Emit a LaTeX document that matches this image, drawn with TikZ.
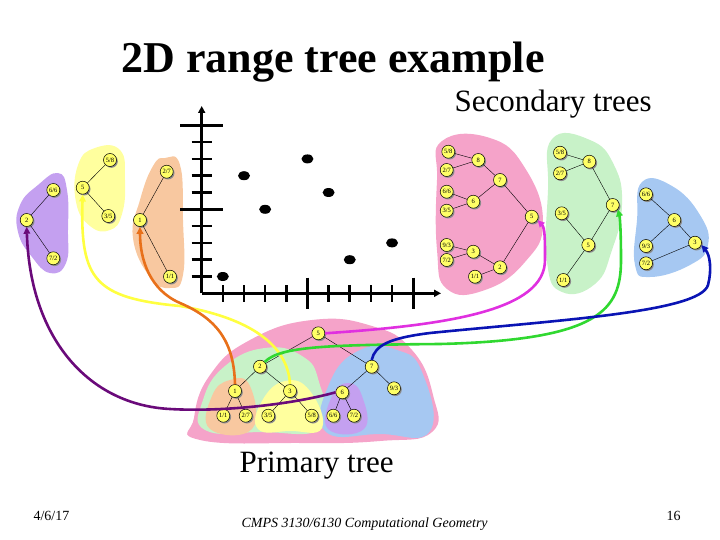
\documentclass[tikz,border=0pt]{standalone}
\usepackage{fontspec}
\setmainfont{Liberation Serif}
\usetikzlibrary{arrows.meta, shadows}

\definecolor{rosa}{HTML}{F5A3C9}
\definecolor{verdeb}{HTML}{C8F2C8}
\definecolor{naranjab}{HTML}{F8C8A0}
\definecolor{amarillob}{HTML}{FFFF9E}
\definecolor{azulb}{HTML}{A6C8F2}
\definecolor{moradob}{HTML}{C4A0F0}
\definecolor{nodoam}{HTML}{FFFF66}
\definecolor{fmorado}{HTML}{6A0A7A}
\definecolor{famarillo}{HTML}{FFFF40}
\definecolor{fnaranja}{HTML}{E8701A}
\definecolor{fmagenta}{HTML}{E030E0}
\definecolor{fverde}{HTML}{30D830}
\definecolor{fazul}{HTML}{0A14B4}

\begin{document}
\begin{tikzpicture}[x=1pt, y=-1pt,
  nd/.style={circle, draw=black, line width=0.5pt, fill=nodoam, inner sep=0pt,
    minimum size=13pt, font=\fontsize{6.5}{6.5}\selectfont,
    drop shadow={shadow xshift=1.3pt, shadow yshift=-1.3pt, fill=black!45, opacity=1}},
  arr/.style={line width=2.6pt, -{Triangle[length=7pt, width=6.5pt]}},
  axis/.style={line width=2.6pt},
  blob/.style={tension=0.8}]
  \useasboundingbox (0,0) rectangle (720,540);
  % textos
  \node[font=\fontsize{44}{44}\bfseries\selectfont, anchor=base] (titulo) at (333,73) {2D range tree example};
  \node[font=\fontsize{31}{31}\selectfont, anchor=base west] (sec) at (451,112) {Secondary trees};
  \node[font=\fontsize{31}{31}\selectfont, anchor=base west] (prim) at (236,472) {Primary tree};
  \node[font=\fontsize{14}{14}\selectfont, anchor=base west] (fecha) at (30,520) {4/6/17};
  \node[font=\fontsize{14}{14}\itshape\selectfont, anchor=base west] (curso) at (238,527) {CMPS 3130/6130 Computational Geometry};
  \node[font=\fontsize{14}{14}\selectfont, anchor=base west] (pag) at (663,520) {16};

  % manchas de color
  \fill[moradob] plot[smooth cycle, blob] coordinates {(58,173) (67,190) (68,230) (66,263) (50,273) (32,257) (18,232) (20,205) (38,185)};
  \fill[amarillob] plot[smooth cycle, blob] coordinates {(95,148) (120,150) (125,180) (122,214) (110,230) (90,226) (76,202) (78,165)};
  \fill[naranjab] plot[smooth cycle, blob] coordinates {(165,158) (180,165) (183,220) (183,275) (170,288) (150,277) (133,238) (140,200) (153,166)};
  \fill[rosa] plot[smooth cycle, blob] coordinates {(442,141) (490,138) (525,168) (543,222) (525,262) (485,290) (447,289) (437,250) (437,180)};
  \fill[verdeb] plot[smooth cycle, blob] coordinates {(552,139) (590,140) (614,165) (622,205) (612,250) (595,284) (562,292) (547,262) (548,190)};
  \fill[azulb] plot[smooth cycle, blob] coordinates {(642,182) (672,186) (700,215) (708,245) (690,265) (650,277) (635,265) (637,220)};
  % arbol primario
  \fill[rosa] plot[smooth cycle, blob] coordinates {(200,440) (194,418) (210,375) (250,340) (312,320) (372,326) (412,350) (433,395) (432,432) (380,441) (300,443)};
  \fill[verdeb] plot[smooth cycle, blob] coordinates {(205,430) (203,400) (225,366) (265,348) (302,356) (319,382) (322,428) (260,432)};
  \fill[azulb] plot[smooth cycle, blob] coordinates {(325,431) (330,382) (360,350) (397,350) (422,372) (430,431) (380,434)};
  \fill[naranjab] plot[smooth cycle, blob] coordinates {(210,429) (212,396) (230,380) (250,386) (252,429)};
  \fill[amarillob] plot[smooth cycle, blob] coordinates {(258,429) (262,401) (285,381) (310,391) (322,428) (290,431)};
  \fill[moradob] plot[smooth cycle, blob] coordinates {(328,429) (332,396) (348,383) (362,396) (364,429)};

  % ejes y puntos
  \draw[axis, -{Triangle[length=7pt, width=7pt]}] (201.7,293.3) -- (201.7,106);
  \draw[axis, -{Triangle[length=7pt, width=7pt]}] (201.7,293.3) -- (441,293.3);
  \foreach \i in {1,2,3,4,6,7,8,9} {
    \draw[axis] ({201.7+21.15*\i},285) -- ({201.7+21.15*\i},301.7);
    \draw[axis] (191.7,{293.3-16.8*\i}) -- (212,{293.3-16.8*\i});
  }
  \foreach \i in {5,10} {
    \draw[axis] ({201.7+21.15*\i},277.7) -- ({201.7+21.15*\i},309.3);
    \draw[axis] (180,{293.3-16.8*\i}) -- (222.7,{293.3-16.8*\i});
  }
  \foreach \px/\py in {1/1,2/7,3/5,5/8,6/6,7/2,9/3}
    \fill ({201.7+21.15*\px},{293.3-16.8*\py}) ellipse (6 and 4.5);

  % arboles secundarios de la izquierda
  \node[nd] (a2) at (26.7,220) {2};
  \node[nd] (a66) at (53.3,190) {6/6};
  \node[nd] (a72) at (53.3,258.3) {7/2};
  \draw (a2) -- (a66); \draw (a2) -- (a72);
  \node[nd] (b5) at (82.7,187.7) {5};
  \node[nd] (b58) at (110,160) {5/8};
  \node[nd] (b35) at (108.3,216) {3/5};
  \draw (b5) -- (b58); \draw (b5) -- (b35);
  \node[nd] (c1) at (140,220) {1};
  \node[nd] (c27) at (166.7,171.7) {2/7};
  \node[nd] (c11) at (170,276.7) {1/1};
  \draw (c1) -- (c27); \draw (c1) -- (c11);

  % arbol secundario rosa (raiz)
  \node[nd] (d58) at (448.3,151.7) {5/8};
  \node[nd] (d27) at (446.7,170) {2/7};
  \node[nd] (d66) at (446.7,191.7) {6/6};
  \node[nd] (d35) at (446.7,210.7) {3/5};
  \node[nd] (d93) at (446.7,245) {9/3};
  \node[nd] (d72) at (446.7,260) {7/2};
  \node[nd] (d11) at (475,276.7) {1/1};
  \node[nd] (d8) at (478.3,160) {8};
  \node[nd] (d7) at (500,180) {7};
  \node[nd] (d6) at (473.3,201.7) {6};
  \node[nd] (d5) at (531.7,216.7) {5};
  \node[nd] (d3) at (473.3,251.7) {3};
  \node[nd] (d2) at (500,267.3) {2};
  \draw (d8) -- (d58); \draw (d8) -- (d27); \draw (d7) -- (d8); \draw (d7) -- (d6);
  \draw (d6) -- (d66); \draw (d6) -- (d35); \draw (d5) -- (d7); \draw (d5) -- (d2);
  \draw (d2) -- (d3); \draw (d3) -- (d93); \draw (d3) -- (d72); \draw (d2) -- (d11);

  % arbol secundario verde
  \node[nd] (e58) at (560,152.7) {5/8};
  \node[nd] (e27) at (560,173.3) {2/7};
  \node[nd] (e8) at (589.3,161.7) {8};
  \node[nd] (e7) at (612.7,205) {7};
  \node[nd] (e35) at (561.7,213.3) {3/5};
  \node[nd] (e5) at (588.3,245) {5};
  \node[nd] (e11) at (563.3,280) {1/1};
  \draw (e8) -- (e58); \draw (e8) -- (e27); \draw (e7) -- (e8); \draw (e7) -- (e5);
  \draw (e5) -- (e35); \draw (e5) -- (e11);

  % arbol secundario azul
  \node[nd] (f66) at (646,194.3) {6/6};
  \node[nd] (f6) at (674.3,220) {6};
  \node[nd] (f3) at (695,242.7) {3};
  \node[nd] (f93) at (646,246) {9/3};
  \node[nd] (f72) at (646,263.3) {7/2};
  \draw (f6) -- (f66); \draw (f6) -- (f93); \draw (f3) -- (f6); \draw (f3) -- (f72);

  % arbol primario
  \node[nd] (p5) at (318.3,333.3) {5};
  \node[nd] (p2) at (260,366.7) {2};
  \node[nd] (p7) at (371.7,366.7) {7};
  \node[nd] (p1) at (235,391) {1};
  \node[nd] (p3) at (290,391) {3};
  \node[nd] (p6) at (342.3,392.3) {6};
  \node[nd] (p93) at (394,388.3) {9/3};
  \node[nd] (p11) at (223.3,415.7) {1/1};
  \node[nd] (p27) at (245.7,415.7) {2/7};
  \node[nd] (p35) at (268.3,415.7) {3/5};
  \node[nd] (p58) at (311.7,415.7) {5/8};
  \node[nd] (p66) at (333.3,415.7) {6/6};
  \node[nd] (p72) at (354,415.7) {7/2};
  \draw (p5) -- (p2); \draw (p5) -- (p7); \draw (p2) -- (p1); \draw (p2) -- (p3);
  \draw (p1) -- (p11); \draw (p1) -- (p27); \draw (p3) -- (p35); \draw (p3) -- (p58);
  \draw (p7) -- (p6); \draw (p7) -- (p93); \draw (p6) -- (p66); \draw (p6) -- (p72);

  % flechas a los arboles secundarios
  \draw[arr, fmorado] (p6.west) .. controls (290,405) and (220,412) .. (170,409) .. controls (90,405) and (30,340) .. (a2.south);
  \draw[arr, famarillo] (p3.north) .. controls (288,345) and (250,318) .. (180,306) .. controls (95,298) and (80,280) .. (b5.south);
  \draw[arr, fnaranja] (p1.north) .. controls (234,345) and (220,320) .. (180,303) .. controls (150,290) and (140,260) .. (c1.south);
  \draw[arr, fmagenta] (p5.east) .. controls (450,325) and (545,310) .. (545,260) .. controls (545,240) and (545,228) .. (d5.-30);
  \draw[arr, fverde] (p2.north east) .. controls (280,346) and (330,345) .. (440,344) .. controls (600,340) and (621,310) .. (621,260) .. controls (621,232) and (620,218) .. (e7.-40);
  \draw[arr, fazul] (p7.north) .. controls (375,345) and (390,338) .. (430,333) .. controls (560,320) and (700,312) .. (708,285) .. controls (712,270) and (710,255) .. (f3.-20);
\end{tikzpicture}
\end{document}
